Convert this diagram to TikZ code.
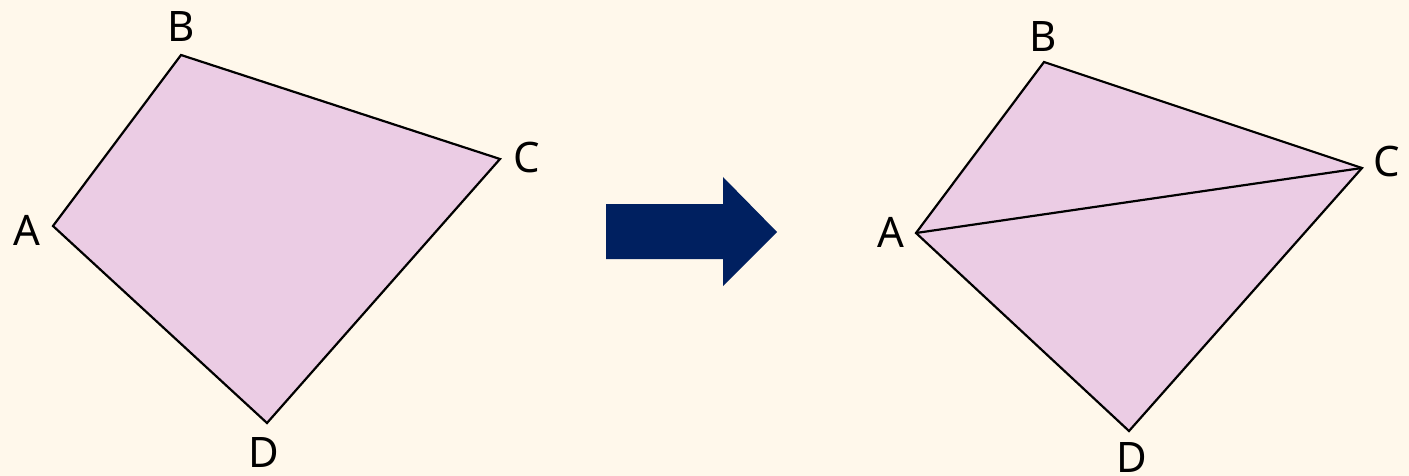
\documentclass[tikz,border=0pt]{standalone}
\usepackage{fontspec}
\setmainfont{Noto Sans}
\definecolor{bg}{HTML}{FFF8EB}
\definecolor{quadfill}{HTML}{EBCCE4}
\definecolor{navy}{HTML}{002060}
\begin{document}
\begin{tikzpicture}[x=0.5pt,y=-0.5pt,
  quad/.style={fill=quadfill,draw=black,line width=1.1pt,line join=miter},
  lbl/.style={font=\fontsize{21}{21}\selectfont,inner sep=0pt,text=black}]
\fill[bg] (0,0) rectangle (1409,476);
\useasboundingbox (0,0) rectangle (1409,476);
% left quadrilateral
\coordinate (A1) at (53,226);
\coordinate (B1) at (181,55);
\coordinate (C1) at (500,159);
\coordinate (D1) at (267,423);
\draw[quad] (A1) -- (B1) -- (C1) -- (D1) -- cycle;
\node[lbl] (lA1) at (27,230) {A};
\node[lbl] (lB1) at (181,27) {B};
\node[lbl] (lC1) at (527,158) {C};
\node[lbl] (lD1) at (264,453) {D};
% arrow
\fill[navy] (606,204) -- (723,204) -- (723,177) -- (777,232) -- (723,286) -- (723,259) -- (606,259) -- cycle;
% right quadrilateral
\coordinate (A2) at (916,233);
\coordinate (B2) at (1044,62);
\coordinate (C2) at (1362,168);
\coordinate (D2) at (1129,431);
\draw[quad] (A2) -- (B2) -- (C2) -- (D2) -- cycle;
\draw[line width=1.1pt] (A2) -- (C2);
\node[lbl] (lA2) at (891,232) {A};
\node[lbl] (lB2) at (1043,37) {B};
\node[lbl] (lC2) at (1387,162) {C};
\node[lbl] (lD2) at (1132,458) {D};
\end{tikzpicture}
\end{document}
